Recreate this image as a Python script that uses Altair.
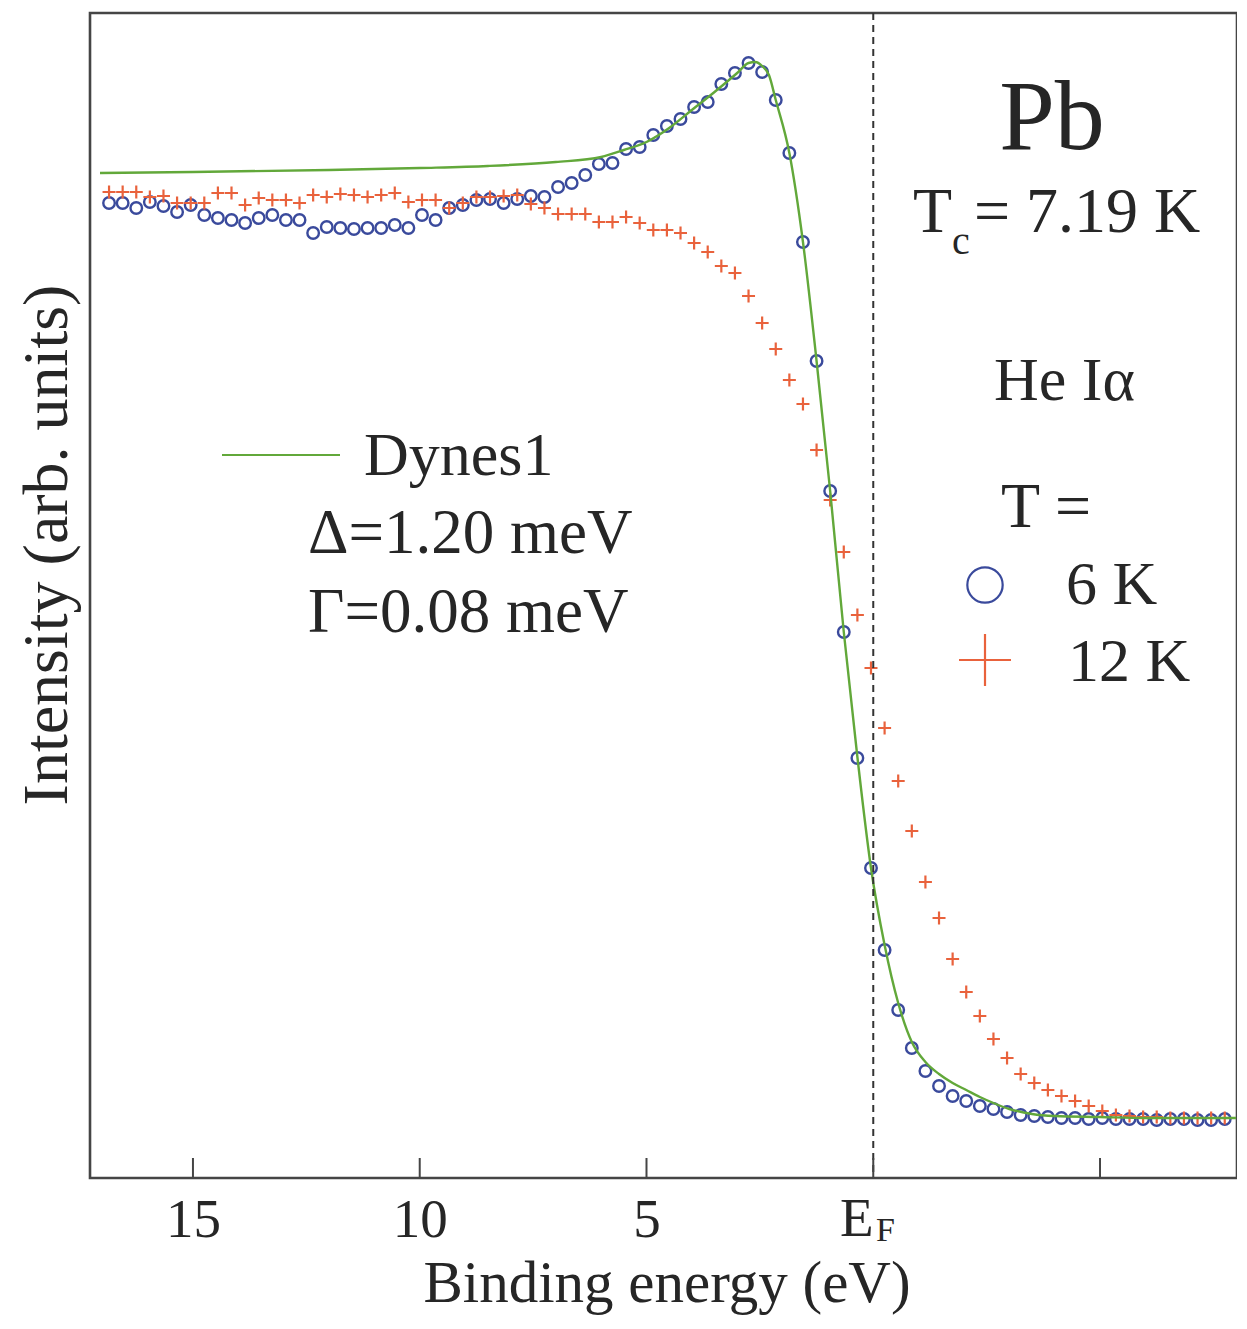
import altair as alt
import pandas as pd

# ---------------- data ----------------
energy = [16.85, 16.55, 16.25, 15.95, 15.65, 15.35, 15.05, 14.75, 14.45, 14.15,
          13.85, 13.55, 13.25, 12.95, 12.65, 12.35, 12.05, 11.75, 11.45, 11.15,
          10.85, 10.55, 10.25, 9.95, 9.65, 9.35, 9.05, 8.75, 8.45, 8.15,
          7.85, 7.55, 7.25, 6.95, 6.65, 6.35, 6.05, 5.75, 5.45, 5.15,
          4.85, 4.55, 4.25, 3.95, 3.65, 3.35, 3.05, 2.75, 2.45, 2.15,
          1.85, 1.55, 1.25, 0.95, 0.65, 0.35, 0.05, -0.25, -0.55, -0.85,
          -1.15, -1.45, -1.75, -2.05, -2.35, -2.65, -2.95, -3.25, -3.55, -3.85,
          -4.15, -4.45, -4.75, -5.05, -5.35, -5.65, -5.95, -6.25, -6.55, -6.85,
          -7.15, -7.45, -7.75]

int_6K = [975, 975, 970, 976, 972, 966, 973, 963, 960, 958,
          955, 960, 963, 958, 958, 945, 951, 950, 949, 950,
          950, 953, 950, 963, 958, 970, 973, 978, 979, 975,
          979, 982, 981, 991, 995, 1003, 1014, 1015, 1029, 1031,
          1043, 1052, 1059, 1071, 1076, 1094, 1105, 1115, 1106, 1078,
          1025, 936, 817, 687, 546, 420, 310, 228, 168, 130,
          107, 92, 82, 77, 72, 69, 66, 63, 62, 61,
          60, 60, 59, 60, 59, 59, 59, 58, 59, 59,
          58, 58, 59]

int_12K = [986, 986, 986, 981, 982, 975, 975, 975, 985, 985,
           973, 980, 978, 978, 975, 983, 981, 984, 983, 981,
           983, 985, 976, 978, 978, 970, 975, 981, 981, 982,
           983, 974, 970, 964, 964, 964, 956, 956, 961, 955,
           948, 948, 945, 935, 926, 912, 905, 882, 855, 829,
           798, 774, 728, 678, 626, 563, 510, 450, 397, 347,
           296, 260, 219, 186, 162, 139, 120, 104, 95, 88,
           82, 77, 72, 67, 63, 62, 61, 61, 60, 60,
           60, 60, 60]

fit_energy = [17.05, 15.0, 12.0, 10.0, 8.5, 7.0, 6.0, 5.5, 5.0, 4.5,
              4.0, 3.5, 3.0, 2.75, 2.6, 2.45, 2.3, 2.15, 1.85, 1.55,
              1.25, 0.95, 0.65, 0.35, 0.05, -0.25, -0.55, -0.85, -1.15, -1.45,
              -1.75, -2.05, -2.35, -2.65, -3.0, -3.5, -4.0, -5.0, -6.0, -8.0]
fit_int = [1005, 1006, 1008, 1010, 1012, 1016, 1021, 1028, 1036, 1050,
           1068, 1086, 1105, 1115, 1116, 1112, 1103, 1078, 1025, 936,
           817, 687, 546, 421, 310, 233, 175, 136, 116, 104,
           95, 88, 81, 75, 69, 64, 62, 61, 60, 60]

tick_values = [15, 10, 5, 0, -5]
tick_labels = ["15", "10", "5", "", ""]

# ---------------- style ----------------
FONT = "Liberation Serif"
INK = "#262626"
FRAME = "#454545"
BLUE = "#3a4a9c"
RED = "#e9623c"
GREEN = "#62a83a"

W, H = 1147, 1165
X0, Y0 = 90, 13  # page position of plot area

xscale = alt.Scale(domain=[17.27, -8.02], nice=False, zero=False)
yscale = alt.Scale(domain=[0, 1165], nice=False, zero=False)

df6 = pd.DataFrame({"e": energy, "i": int_6K})
df12 = pd.DataFrame({"e": energy, "i": int_12K})
dfit = pd.DataFrame({"e": fit_energy, "i": fit_int})
dticks = pd.DataFrame({"e": tick_values, "lab": tick_labels})
dummy = pd.DataFrame({"a": [0]})

label_map = "{" + ", ".join(f"'{v}': '{l}'" for v, l in zip(tick_values, tick_labels)) + "}"

xaxis = alt.Axis(values=tick_values, labelExpr=f"{label_map}[datum.value]",
                 ticks=False, domain=False, grid=False, title=None,
                 labelFont=FONT, labelFontSize=55, labelColor=INK,
                 labelBaseline="alphabetic", labelPadding=58, labelFlush=False)
yaxis = alt.Axis(labels=False, ticks=False, domain=False, grid=False, title=None)

circles = alt.Chart(df6).mark_point(shape="circle", filled=False, size=133,
                                    strokeWidth=2.4, color=BLUE, opacity=1).encode(
    x=alt.X("e:Q", scale=xscale, axis=xaxis),
    y=alt.Y("i:Q", scale=yscale, axis=yaxis))

crosses = alt.Chart(df12).mark_point(shape="M-1,0L1,0M0,-1L0,1", filled=False, size=169,
                                     strokeWidth=2.2, color=RED, opacity=1).encode(
    x=alt.X("e:Q", scale=xscale),
    y=alt.Y("i:Q", scale=yscale))

fit = alt.Chart(dfit).mark_line(color=GREEN, strokeWidth=2.4, interpolate="monotone").encode(
    x=alt.X("e:Q", scale=xscale),
    y=alt.Y("i:Q", scale=yscale))

ef_line = alt.Chart(pd.DataFrame({"e": [0]})).mark_rule(
    color="#333333", strokeWidth=2, strokeDash=[7, 5]).encode(
    x=alt.X("e:Q", scale=xscale))

ticks = alt.Chart(dticks).mark_rule(color=FRAME, strokeWidth=2).encode(
    x=alt.X("e:Q", scale=xscale),
    y=alt.value(H - 20), y2=alt.value(H))


def txt(text, x, y, size, align="left", angle=0, baseline="alphabetic"):
    return alt.Chart(dummy).mark_text(text=text, font=FONT, fontSize=size, align=align,
                                      baseline=baseline, angle=angle, color=INK).encode(
        x=alt.value(x - X0), y=alt.value(y - Y0))


texts = [
    txt("Pb", 1052, 149, 100, align="center"),
    txt("T", 913, 232, 64),
    txt("c", 952, 254, 40),
    txt("= 7.19 K", 974, 232, 64),
    txt("He Iα", 994, 400, 62),
    txt("T =", 1001, 527, 64),
    txt("6 K", 1066, 604, 62),
    txt("12 K", 1068, 681, 62),
    txt("Dynes1", 364, 475, 62),
    txt("Δ=1.20 meV", 308, 553, 63),
    txt("Γ=0.08 meV", 308, 632, 63),
    txt("E", 840, 1236, 55),
    txt("F", 876, 1241, 34),
    txt("Binding energy (eV)", 667, 1302, 59, align="center"),
    txt("Intensity (arb. units)", 48, 545, 64, align="center", angle=270, baseline="middle"),
]

leg_line = alt.Chart(dummy).mark_rule(color=GREEN, strokeWidth=2).encode(
    x=alt.value(222 - X0), x2=alt.value(340 - X0), y=alt.value(455 - Y0))
leg_circle = alt.Chart(dummy).mark_point(shape="circle", filled=False, size=1250,
                                         strokeWidth=2.2, color=BLUE, opacity=1).encode(
    x=alt.value(985 - X0), y=alt.value(585 - Y0))
leg_cross = alt.Chart(dummy).mark_point(shape="M-1,0L1,0M0,-1L0,1", filled=False, size=2700,
                                        strokeWidth=2.2, color=RED, opacity=1).encode(
    x=alt.value(985 - X0), y=alt.value(660 - Y0))

chart = alt.layer(circles, crosses, fit, ef_line, ticks, leg_line, leg_circle, leg_cross,
                  *texts).properties(
    width=W, height=H,
    background="white",
    padding={"left": 82, "top": 5, "right": 0, "bottom": 138},
    autosize=alt.AutoSizeParams(type="none"),
).configure_view(stroke=FRAME, strokeWidth=2.6)

chart.save("out.html", embed_options={"renderer": "svg", "actions": False})
